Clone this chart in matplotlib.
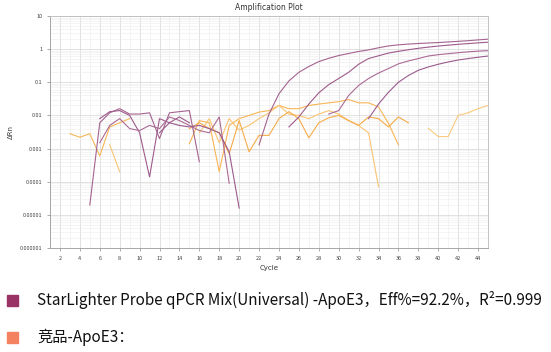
import numpy as np
import matplotlib
matplotlib.use("Agg")
import matplotlib.pyplot as plt
from matplotlib.patches import Rectangle
from matplotlib.ticker import LogLocator, FixedLocator, NullFormatter

plt.rcParams['font.family'] = ['Noto Sans CJK SC', 'DejaVu Sans']

N = None
cycles = list(range(1, 46))

# StarLighter wells (purple): baseline noise + amplification
purple_a = [N, N, N, N, 2e-5, .006, .012, .016, .011, .011, .012, .002, .012, .013, .014, .0004,
            N, N, N, N, N, .0013, .011, .045, .11, .2, .3, .42, .53, .64, .74, .85, .95, 1.1,
            1.25, 1.35, 1.42, 1.48, 1.53, 1.58, 1.65, 1.72, 1.8, 1.9, 2.0]
purple_b = [N, N, N, N, N, .008, .013, .014, .010, .003, .00014, .008, .006, .009, .006, N,
            N, N, N, N, N, N, N, N, .0045, .009, .022, .048, .085, .13, .2, .35, .52, .63,
            .76, .86, .96, 1.06, 1.15, 1.24, 1.32, 1.4, 1.47, 1.55, 1.62]
purple_c = [N, N, N, N, N, .0015, .005, .008, .004, .0035, .005, .004, .009, .007, .005, .0035,
            .003, .009, .00009, N, N, N, N, N, N, N, N, N, .011, .014, .04, .08, .13, .19,
            .26, .36, .44, .52, .62, .68, .73, .78, .83, .87, .9]
purple_d = [N, N, N, N, N, N, N, N, N, N, N, .003, .006, .005, .0045, .005, .004, .003, .0008,
            1.6e-5, N, N, N, N, N, N, N, N, N, N, N, N, .008, .022, .05, .10, .16, .23,
            .29, .35, .41, .47, .52, .57, .62]

# Competitor wells (orange)
orange_a = [N, N, .0028, .0022, .0028, .0006, .0045, .006, .008, N, N, N, N, N, .0014, .007,
            .006, .0002, .005, .008, .010, .0126, .014, .020, .016, .016, .020, .022, .024,
            .026, .030, .024, .024, .018, .0058, .0013, N, N, N, N, N, N, N, N, N]
orange_b = [N, N, N, N, N, N, .0013, .0002, N, N, N, N, N, N, N, .003, .008, .0015, .008,
            .0036, .005, .008, .012, .020, .011, .010, .008, .011, .014, .011, .007, .005,
            .003, .00007, N, N, N, N, N, N, N, N, N, N, N]
orange_c = [N, N, N, N, N, N, N, N, N, N, N, N, N, N, .004, .006, .004, .003, .0007, .007,
            .0008, .0025, .0025, .008, .013, .008, .0021, .006, .0085, .010, .007, .005, .009,
            .008, .0045, .009, .006, N, N, N, N, N, N, N, N]
orange_d = [N] * 38 + [.0041, .0023, .0023, .010, .012, .016, .020]

x_ticks = list(range(2, 45, 2))
y_ticks = [1e-6, 1e-5, 1e-4, 1e-3, 1e-2, 1e-1, 1, 10]
y_labels = ['0.000001', '0.00001', '0.0001', '0.001', '0.01', '0.1', '1', '10']

legend_labels = ['StarLighter Probe qPCR Mix(Universal) -ApoE3，Eff%=92.2%，R²=0.999',
                 '竞品-ApoE3：']

def arr(v):
    return np.array([np.nan if a is None else a for a in v], dtype=float)

fig = plt.figure(figsize=(5.51, 3.52), dpi=100)
ax = fig.add_axes([50/551, 1-248/352, 438/551, 232/352])

ax.set_yscale('log')
ax.set_xlim(1, 45)
ax.set_ylim(1e-6, 10)

ax.xaxis.set_minor_locator(FixedLocator(cycles))
ax.yaxis.set_minor_locator(LogLocator(base=10, subs=np.arange(2, 10)))
ax.yaxis.set_minor_formatter(NullFormatter())
ax.grid(True, which='major', color='#dcdcdc', lw=0.6)
ax.grid(True, which='minor', color='#ececec', lw=0.4)
ax.set_axisbelow(True)

orange_cols = ['#f8b555', '#fac472', '#f6ab48', '#fbc97e']
purple_cols = ['#a4628f', '#9e5a8b', '#ab6a95', '#9a5a8e']
for s, c in zip([orange_a, orange_b, orange_c, orange_d], orange_cols):
    ax.plot(cycles, arr(s), color=c, lw=0.8)
for s, c in zip([purple_a, purple_b, purple_c, purple_d], purple_cols):
    ax.plot(cycles, arr(s), color=c, lw=0.8)

ax.set_xticks(x_ticks)
ax.set_xticklabels([str(t) for t in x_ticks])
ax.set_yticks(y_ticks)
ax.set_yticklabels(y_labels)
ax.tick_params(which='major', labelsize=4, length=2, width=0.5, colors='#888888', labelcolor='#444444')
ax.tick_params(which='minor', length=0)
for sp in ax.spines.values():
    sp.set_color('#bbbbbb')
    sp.set_linewidth(0.6)
ax.spines['left'].set_color('#999999')
ax.spines['bottom'].set_color('#999999')

ax.set_title('Amplification Plot', fontsize=5.5, color='#333333', pad=4, family='DejaVu Sans')
ax.set_xlabel('Cycle', fontsize=5, color='#333333', labelpad=3, family='DejaVu Sans')
ax.set_ylabel('ΔRn', fontsize=5, color='#333333', labelpad=4, family='DejaVu Sans')

# legend below
box_cols = ['#993366', '#f4815f']
for i, (lab, c) in enumerate(zip(legend_labels, box_cols)):
    yc = 300 if i == 0 else 337
    fig.patches.append(Rectangle((7/551, 1-(yc+6)/352), 11/551, 11/352,
                                 transform=fig.transFigure, color=c))
    fig.text(37/551, 1-yc/352, lab, fontsize=11, va='center', ha='left', color='#111111')

fig.savefig('out.png', dpi=100)
